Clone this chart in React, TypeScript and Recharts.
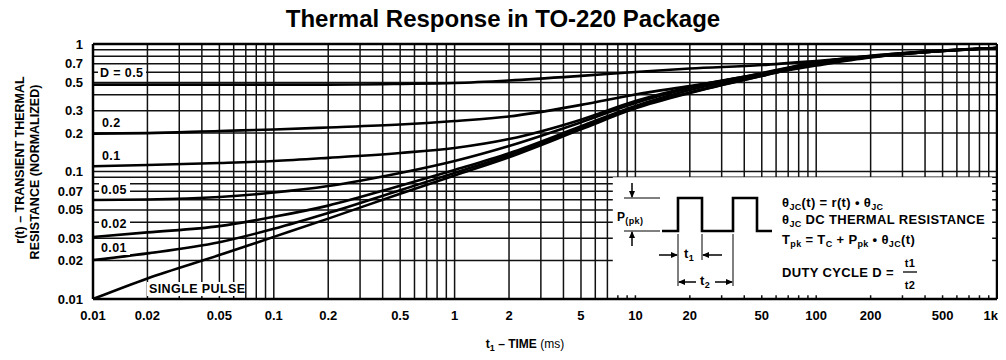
import React from 'react';
import { LineChart, Line, XAxis, YAxis, CartesianGrid, ReferenceLine, ReferenceArea } from 'recharts';

// t1 in ms, read at the labelled grid positions
const TIME = [0.01, 0.02, 0.05, 0.1, 0.2, 0.5, 1, 2, 5, 10, 20, 50, 100, 200, 500, 1000];

// r(t) for each duty cycle
const D_050 = [0.48, 0.48, 0.48, 0.48, 0.48, 0.486, 0.494, 0.517, 0.562, 0.603, 0.642, 0.684, 0.736, 0.798, 0.881, 0.93];
const D_020 = [0.198, 0.2, 0.208, 0.2135, 0.2215, 0.2337, 0.2489, 0.27, 0.333, 0.4017, 0.468, 0.5765, 0.6782, 0.7836, 0.881, 0.93];
const D_010 = [0.11, 0.1124, 0.1166, 0.1209, 0.128, 0.1397, 0.153, 0.1798, 0.255, 0.357, 0.46, 0.5869, 0.7159, 0.805, 0.889, 0.93];
const D_005 = [0.0598, 0.0603, 0.0631, 0.0684, 0.0769, 0.0973, 0.1209, 0.1585, 0.243, 0.3446, 0.4517, 0.59, 0.7186, 0.8083, 0.889, 0.93];
const D_002 = [0.0306, 0.0333, 0.0373, 0.0441, 0.054, 0.0774, 0.1029, 0.1391, 0.2262, 0.327, 0.436, 0.5765, 0.7096, 0.8008, 0.886, 0.93];
const D_001 = [0.0202, 0.0228, 0.0279, 0.0355, 0.0472, 0.0714, 0.0975, 0.1342, 0.2194, 0.3183, 0.4165, 0.564, 0.6995, 0.7937, 0.8829, 0.93];
const SINGLE = [0.01, 0.0145, 0.0221, 0.0307, 0.0427, 0.067, 0.0932, 0.1295, 0.214, 0.3126, 0.413, 0.561, 0.697, 0.791, 0.881, 0.93];

const X_LABELS = [0.01, 0.02, 0.05, 0.1, 0.2, 0.5, 1, 2, 5, 10, 20, 50, 100, 200, 500, 1000];
const Y_LABELS = [0.01, 0.02, 0.03, 0.05, 0.07, 0.1, 0.2, 0.3, 0.5, 0.7, 1];

const STEPS = [1, 2, 3, 4, 5, 6, 7, 8, 9];
const X_GRID = [-2, -1, 0, 1, 2].flatMap((e) => STEPS.map((m) => +(m * 10 ** e).toPrecision(2))).concat(1000);
const Y_GRID = [-2, -1].flatMap((e) => STEPS.map((m) => +(m * 10 ** e).toPrecision(2))).concat(1);

const SERIES = [D_050, D_020, D_010, D_005, D_002, D_001, SINGLE];

const FONT = '"Liberation Sans", Arial, sans-serif';

const has = (list: number[], v: number) => list.some((l) => Math.abs(l - v) / l < 1e-6);
const fmtX = (v: number) => (has(X_LABELS, v) ? (v === 1000 ? '1k' : String(v)) : '');
const fmtY = (v: number) => (has(Y_LABELS, v) ? String(v) : '');

const tickStyle = { fill: '#000', fontSize: 13, fontWeight: 'bold', fontFamily: FONT };

function XTick(props: any) {
  const { x, y, payload } = props;
  const last = payload.value === 1000;
  return (
    <text x={last ? x + 1 : x} y={y} dy="0.71em" textAnchor={last ? 'end' : 'middle'} {...tickStyle}>
      {fmtX(payload.value)}
    </text>
  );
}

function CurveLabel({ x, y, w, text }: { x: number; y: number; w: number; text: string }) {
  return (
    <g>
      <rect x={x - 2} y={y - 11} width={w} height={14} fill="#fff" />
      <text x={x} y={y} fontSize={12.5} fontWeight="bold" fontFamily={FONT} letterSpacing={0.4}>
        {text}
      </text>
    </g>
  );
}

function Inset() {
  const t = { fontSize: 13, fontWeight: 'bold' as const, fontFamily: FONT, letterSpacing: 0.35 };
  return (
    <g>
      <defs>
        <marker id="ah" markerWidth="7" markerHeight="6" refX="6" refY="3" orient="auto" markerUnits="userSpaceOnUse">
          <path d="M0,0 L7,3 L0,6 z" fill="#000" />
        </marker>
      </defs>
      {/* P(pk) */}
      <line x1={616} y1={190} x2={652} y2={190} stroke="#000" strokeWidth={1} />
      <line x1={616} y1={223} x2={652} y2={223} stroke="#000" strokeWidth={1} />
      <line x1={624} y1={175} x2={624} y2={189} stroke="#000" strokeWidth={1.5} markerEnd="url(#ah)" />
      <line x1={624} y1={238} x2={624} y2={224} stroke="#000" strokeWidth={1.5} markerEnd="url(#ah)" />
      <text x={609} y={213} {...t} fontSize={12}>
        P<tspan fontSize={9} dy={3}>(pk)</tspan>
      </text>
      {/* pulse train */}
      <path d="M654,223 H670 V190 H694 V223 H725 V190 H749 V223 H764" fill="none" stroke="#000" strokeWidth={2.6} />
      {/* t1 / t2 dimensions */}
      <line x1={670} y1={226} x2={670} y2={278} stroke="#000" strokeWidth={1} />
      <line x1={694} y1={226} x2={694} y2={252} stroke="#000" strokeWidth={1} />
      <line x1={725} y1={226} x2={725} y2={278} stroke="#000" strokeWidth={1} />
      <line x1={651} y1={247} x2={669} y2={247} stroke="#000" strokeWidth={1.5} markerEnd="url(#ah)" />
      <line x1={714} y1={247} x2={695} y2={247} stroke="#000" strokeWidth={1.5} markerEnd="url(#ah)" />
      <text x={676} y={250} {...t}>
        t<tspan fontSize={9} dy={3}>1</tspan>
      </text>
      <line x1={688} y1={274} x2={671} y2={274} stroke="#000" strokeWidth={1.5} markerEnd="url(#ah)" />
      <line x1={707} y1={274} x2={724} y2={274} stroke="#000" strokeWidth={1.5} markerEnd="url(#ah)" />
      <text x={692} y={277} {...t}>
        t<tspan fontSize={9} dy={3}>2</tspan>
      </text>
      {/* equations */}
      <text x={774} y={199} {...t}>
        θ<tspan fontSize={9} dy={3}>JC</tspan>
        <tspan dy={-3}>(t) = r(t) • θ</tspan>
        <tspan fontSize={9} dy={3}>JC</tspan>
      </text>
      <text x={774} y={216} {...t}>
        θ<tspan fontSize={9} dy={3}>JC</tspan>
        <tspan dy={-3}> DC THERMAL RESISTANCE</tspan>
      </text>
      <text x={774} y={236} {...t}>
        T<tspan fontSize={9} dy={3}>pk</tspan>
        <tspan dy={-3}> = T</tspan>
        <tspan fontSize={9} dy={3}>C</tspan>
        <tspan dy={-3}> + P</tspan>
        <tspan fontSize={9} dy={3}>pk</tspan>
        <tspan dy={-3}> • θ</tspan>
        <tspan fontSize={9} dy={3}>JC</tspan>
        <tspan dy={-3}>(t)</tspan>
      </text>
      <text x={774} y={269} {...t}>DUTY CYCLE D =</text>
      <text x={902} y={259} {...t} fontSize={11} textAnchor="middle">t1</text>
      <line x1={895} y1={264} x2={909} y2={264} stroke="#000" strokeWidth={1.3} />
      <text x={902} y={281} {...t} fontSize={11} textAnchor="middle">t2</text>
    </g>
  );
}

export default function App() {
  return (
    <div style={{ position: 'relative', width: 1006, height: 360, margin: -8, background: '#fff', overflow: 'visible' }}>
      <LineChart width={1006} height={360} margin={{ top: 44, right: 9, bottom: 31, left: 33 }}>
        <CartesianGrid stroke="#111" strokeWidth={1.5} />
        <XAxis
          type="number"
          dataKey="t"
          scale="log"
          domain={[0.01, 1000]}
          allowDataOverflow
          ticks={X_GRID}
          interval={0}
          tickLine={false}
          tickSize={0}
          tickMargin={12}
          height={30}
          axisLine={{ stroke: '#000', strokeWidth: 2.5 }}
          tick={<XTick />}
        />
        <YAxis
          type="number"
          scale="log"
          domain={[0.01, 1]}
          allowDataOverflow
          ticks={Y_GRID}
          interval={0}
          tickFormatter={fmtY}
          tickLine={false}
          tickSize={0}
          tickMargin={10}
          width={60}
          axisLine={{ stroke: '#000', strokeWidth: 2.5 }}
          tick={tickStyle}
        />
        <ReferenceArea x1={7.5} x2={940} y1={0.0107} y2={0.09} fill="#fff" fillOpacity={1} stroke="none" />
        <ReferenceLine x={1000} stroke="#000" strokeWidth={2.5} />
        <ReferenceLine y={1} stroke="#000" strokeWidth={2.5} />
        {SERIES.map((vals, i) => (
          <Line
            key={i}
            data={TIME.map((t, j) => ({ t, r: vals[j] }))}
            dataKey="r"
            type="monotone"
            stroke="#000"
            strokeWidth={2.6}
            dot={false}
            isAnimationActive={false}
          />
        ))}
      </LineChart>
      <svg width={1006} height={360} style={{ position: 'absolute', left: 0, top: 0, pointerEvents: 'none', overflow: 'visible' }}>
        <g transform="translate(8,8)">
          <text x={495} y={19} textAnchor="middle" fontSize={24} fontWeight="bold" fontFamily={FONT}>
            Thermal Response in TO-220 Package
          </text>
          <text transform="translate(12,152) rotate(-90)" textAnchor="middle" dy="0.35em" fontSize={12.5} fontWeight="bold" fontFamily={FONT}>
            r(t) – TRANSIENT THERMAL
          </text>
          <text transform="translate(27,164) rotate(-90)" textAnchor="middle" dy="0.35em" fontSize={12.5} fontWeight="bold" fontFamily={FONT}>
            RESISTANCE (NORMALIZED)
          </text>
          <text x={517} y={340} textAnchor="middle" fontSize={12} fontWeight="bold" fontFamily={FONT}>
            t<tspan fontSize={9} dy={3}>1</tspan>
            <tspan dy={-3}> – TIME </tspan>
            <tspan fontWeight="normal">(ms)</tspan>
          </text>
          <CurveLabel x={92} y={69} w={48} text="D = 0.5" />
          <CurveLabel x={94} y={119} w={22} text="0.2" />
          <CurveLabel x={94} y={152} w={22} text="0.1" />
          <CurveLabel x={93} y={186} w={31} text="0.05" />
          <CurveLabel x={93} y={220} w={31} text="0.02" />
          <CurveLabel x={93} y={244} w={31} text="0.01" />
          <CurveLabel x={141} y={285} w={98} text="SINGLE PULSE" />
          <Inset />
        </g>
      </svg>
    </div>
  );
}
